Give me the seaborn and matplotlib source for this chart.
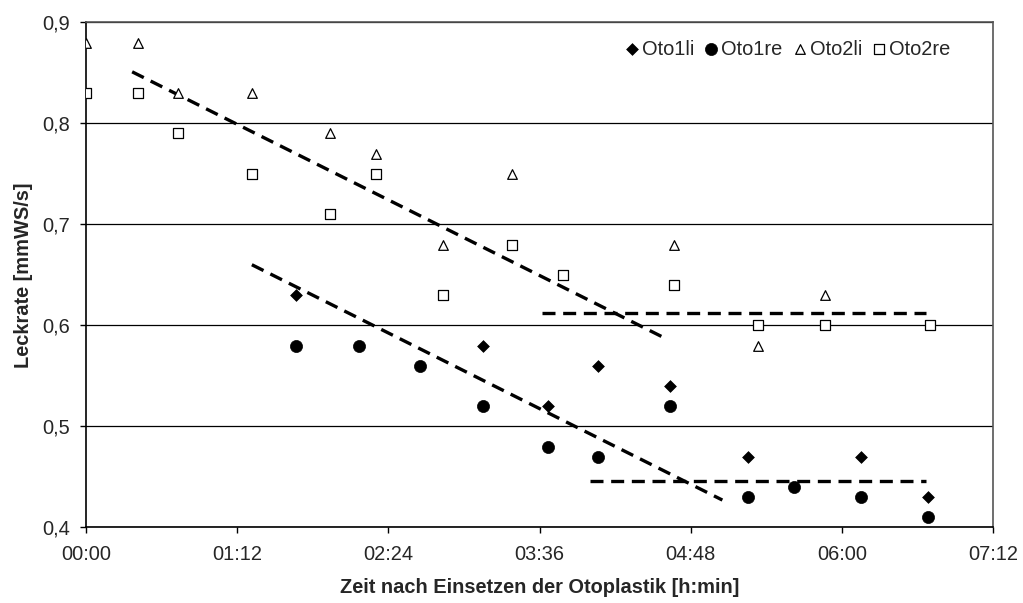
import matplotlib
matplotlib.use("Agg")
import matplotlib.pyplot as plt
import seaborn as sns

# ---- data (time in minutes after insertion, leak rate in mmWS/s) ----
oto1li_t = [100, 189, 220, 244, 278, 315, 369, 401]
oto1li_v = [0.63, 0.58, 0.52, 0.56, 0.54, 0.47, 0.47, 0.43]

oto1re_t = [100, 130, 159, 189, 220, 244, 278, 315, 337, 369, 401]
oto1re_v = [0.58, 0.58, 0.56, 0.52, 0.48, 0.47, 0.52, 0.43, 0.44, 0.43, 0.41]

oto2li_t = [0, 25, 44, 79, 116, 138, 170, 203, 280, 320, 352]
oto2li_v = [0.88, 0.88, 0.83, 0.83, 0.79, 0.77, 0.68, 0.75, 0.68, 0.58, 0.63]

oto2re_t = [0, 25, 44, 79, 116, 138, 170, 203, 227, 280, 320, 352, 402]
oto2re_v = [0.83, 0.83, 0.79, 0.75, 0.71, 0.75, 0.63, 0.68, 0.65, 0.64, 0.60, 0.60, 0.60]

# dashed trend lines (start/end)
trend_upper_t = [22, 274]
trend_upper_v = [0.851, 0.589]
flat_upper_t = [217, 400]
flat_upper_v = [0.6125, 0.6125]
trend_lower_t = [79, 303]
trend_lower_v = [0.66, 0.427]
flat_lower_t = [240, 400]
flat_lower_v = [0.446, 0.446]

x_ticks_min = [0, 72, 144, 216, 288, 360, 432]
x_tick_labels = ["00:00", "01:12", "02:24", "03:36", "04:48", "06:00", "07:12"]
y_ticks = [0.4, 0.5, 0.6, 0.7, 0.8, 0.9]
y_tick_labels = ["0,4", "0,5", "0,6", "0,7", "0,8", "0,9"]

sns.set_theme(style="white")
plt.rcParams['font.family'] = ['Liberation Sans', 'DejaVu Sans']

FS = 14.4

fig = plt.figure(figsize=(10.23, 6.03), dpi=100)
ax = fig.add_axes([0.084, 0.1255, 0.887, 0.8375])

# grid lines
for yv in y_ticks:
    ax.axhline(yv, color="black", lw=0.9, zorder=0)

dash = (0, (3.9, 2.3))
for tx, ty in [(trend_upper_t, trend_upper_v), (flat_upper_t, flat_upper_v),
               (trend_lower_t, trend_lower_v), (flat_lower_t, flat_lower_v)]:
    sns.lineplot(x=tx, y=ty, ax=ax, color="black", lw=2.4, linestyle=dash,
                 zorder=2, legend=False)

sns.scatterplot(x=oto1li_t, y=oto1li_v, ax=ax, marker="D", s=36, color="black",
                edgecolor="black", linewidth=0.5, label="Oto1li", zorder=3)
sns.scatterplot(x=oto1re_t, y=oto1re_v, ax=ax, marker="o", s=76, color="black",
                edgecolor="black", linewidth=0.5, label="Oto1re", zorder=4)
sns.scatterplot(x=oto2li_t, y=oto2li_v, ax=ax, marker="^", s=48, color="white",
                edgecolor="black", linewidth=0.9, label="Oto2li", zorder=3)
sns.scatterplot(x=oto2re_t, y=oto2re_v, ax=ax, marker="s", s=48, color="white",
                edgecolor="black", linewidth=0.9, label="Oto2re", zorder=3)

ax.set_xlim(0, 432)
ax.set_ylim(0.4, 0.9)
ax.set_xticks(x_ticks_min)
ax.set_xticklabels(x_tick_labels, fontsize=FS)
ax.set_yticks(y_ticks)
ax.set_yticklabels(y_tick_labels, fontsize=FS)
ax.tick_params(axis="both", direction="out", length=4.3, width=1, color="black",
               bottom=True, left=True)
ax.tick_params(axis="y", pad=7)
ax.tick_params(axis="x", pad=8.5)

for side in ["left", "bottom"]:
    ax.spines[side].set_color("black")
    ax.spines[side].set_linewidth(1.2)
for side in ["top", "right"]:
    ax.spines[side].set_color("#555555")
    ax.spines[side].set_linewidth(1.2)

ax.set_xlabel("Zeit nach Einsetzen der Otoplastik [h:min]", fontsize=FS,
              fontweight="bold", labelpad=10)
ax.set_ylabel("Leckrate [mmWS/s]", fontsize=FS, fontweight="bold", labelpad=7)

leg = ax.legend(loc="center right", bbox_to_anchor=(0.9526, 0.947), ncol=4,
                frameon=False, fontsize=FS, handletextpad=0.2, handlelength=0.6,
                columnspacing=0.55, borderaxespad=0, borderpad=0)

fig.savefig("out.png", dpi=100, facecolor="white")
